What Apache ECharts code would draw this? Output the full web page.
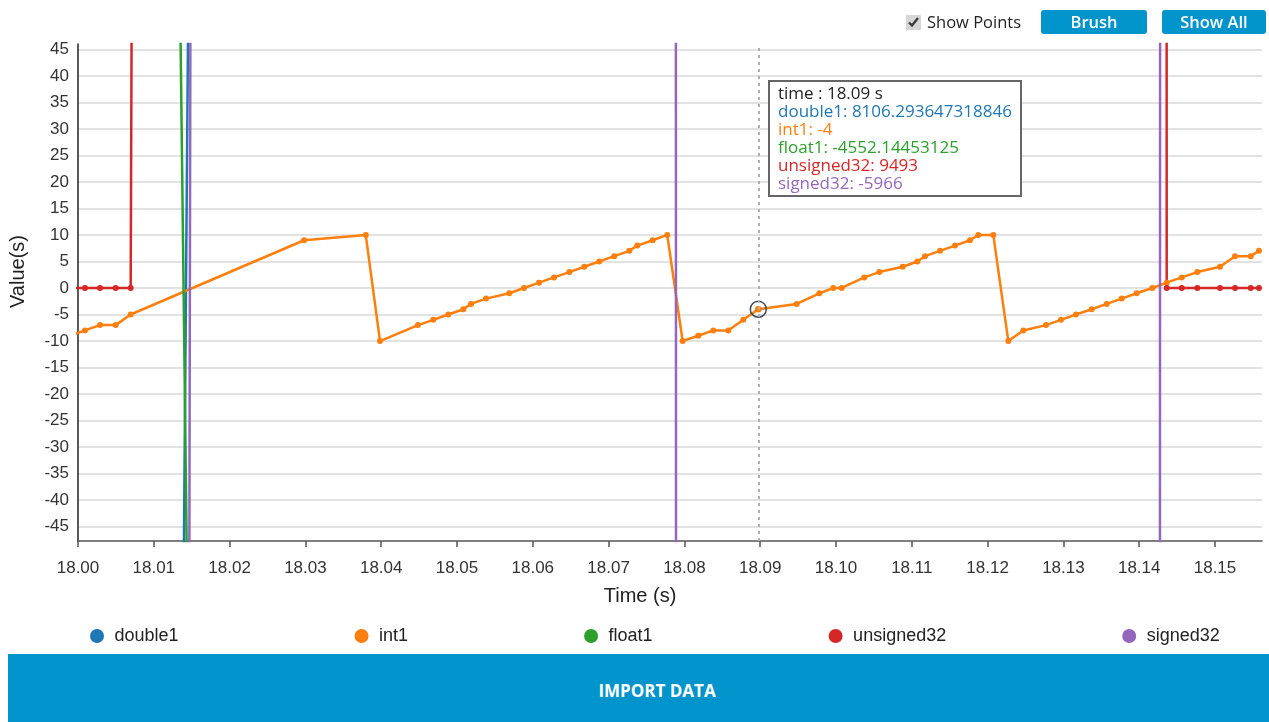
<!DOCTYPE html>
<html>
<head>
<meta charset="utf-8">
<title>Signals</title>
<script src="https://cdn.jsdelivr.net/npm/echarts@6/dist/echarts.min.js"></script>
<style>
    html, body { margin: 0; padding: 0; background: #fff; overflow: hidden; }
    #chart { position: absolute; left: 0; top: 0; width: 1269px; height: 722px; }
    .controls { position: absolute; top: 10px; left: 904px; height: 24px; font-family: 'Open Sans', sans-serif; font-size: 16.5px; color: #222; z-index: 5; }
    .controls label { position: absolute; left: 0; top: 0; white-space: nowrap; line-height: 24px; }
    .controls input { width: 15px; height: 15px; margin: 0 6px 0 2px; vertical-align: -2px; accent-color: #d6d6d6; }
    .btn { position: absolute; top: 0; height: 24px; background: #0094cd; color: #fff; border-radius: 3px; text-align: center; line-height: 23px; font-weight: 600; font-size: 16.5px; }
    #import { position: absolute; left: 8px; top: 654px; width: 1298px; height: 80px; background: #0094cd; color: #fff; font-family: 'Open Sans', sans-serif; font-weight: 700; font-size: 17px; text-align: center; line-height: 74px; z-index: 5; }
</style>
</head>
<body>
<div id="chart"></div>
<div class="controls">
    <label><input type="checkbox" checked>Show Points</label>
    <div class="btn" style="left:137px;width:106px;">Brush</div>
    <div class="btn" style="left:258px;width:104px;">Show All</div>
</div>
<div id="import">IMPORT DATA</div>
<script>
    'use strict';

    // sample times (s)
    var times = [
        17.99894, 18.00092, 18.00290, 18.00497, 18.00695, 18.02982, 18.03796, 18.03984, 18.04485, 18.04687,
        18.04885, 18.05083, 18.05185, 18.05383, 18.05690, 18.05884, 18.06082, 18.06280, 18.06482, 18.06679,
        18.06877, 18.07075, 18.07273, 18.07379, 18.07582, 18.07774, 18.07977, 18.08183, 18.08381, 18.08579,
        18.08777, 18.08975, 18.09481, 18.09780, 18.09964, 18.10075, 18.10373, 18.10571, 18.10880, 18.11073,
        18.11174, 18.11372, 18.11570, 18.11768, 18.11877, 18.12075, 18.12273, 18.12471, 18.12770, 18.12968,
        18.13166, 18.13373, 18.13571, 18.13769, 18.13967, 18.14173, 18.14363, 18.14561, 18.14767, 18.15066,
        18.15264, 18.15471, 18.15580
    ];

    var double1 = [
        -5210, -4630, -3870, -2950, -1294, 2762, 3905, 4160, 4822, 5071,
        5308, 5535, 5642, 5850, 6155, 6330, 6512, 6688, 6861, 7020,
        7170, 7315, 7452, 7521, 7650, 7760, 7862, 7951, 8012, 8060,
        8092, 8106.293647318846, 8110, 8088, 8064, 8047, 7990, 7944, 7856, 7790,
        7760, 7680, 7592, 7498, 7445, 7340, 7228, 7110, 6925, 6796,
        6660, 6512, 6365, 6214, 6058, 5890, 5735, 5565, 5388, 5124,
        4945, 4752, 4650
    ];

    var int1 = [
        -9, -8, -7, -7, -5, 9, 10, -10, -7, -6,
        -5, -4, -3, -2, -1, 0, 1, 2, 3, 4,
        5, 6, 7, 8, 9, 10, -10, -9, -8, -8,
        -6, -4, -3, -1, 0, 0, 2, 3, 4, 5,
        6, 7, 8, 9, 10, 10, -10, -8, -7, -6,
        -5, -4, -3, -2, -1, 0, 1, 2, 3, 4,
        6, 6, 7
    ];

    var float1 = [
        3900, 3310, 2640, 1780, 825, -1879, -2490, -2625, -2980, -3115,
        -3240, -3362, -3420, -3531, -3690, -3780, -3874, -3962, -4048, -4125,
        -4198, -4266, -4328, -4360, -4415, -4461, -4502, -4529, -4545, -4553,
        -4555, -4552.14453125, -4531, -4508, -4489, -4478, -4445, -4418, -4371, -4330,
        -4311, -4270, -4221, -4168, -4140, -4082, -4020, -3954, -3851, -3780,
        -3705, -3623, -3544, -3462, -3378, -3289, -3205, -3112, -3017, -2874,
        -2780, -2679, -2622
    ];

    var unsigned32 = [
        0, 0, 0, 0, 0, 9120, 9268, 9301, 9344, 9357,
        9372, 9385, 9391, 9404, 9420, 9428, 9437, 9445, 9452, 9460,
        9466, 9471, 9476, 9479, 9483, 9486, 9488, 9490, 9491, 9492,
        9492, 9493, 9493, 9492, 9490, 9489, 9485, 9481, 9474, 9469,
        9466, 9458, 9450, 9441, 9436, 9426, 9415, 9403, 9384, 9370,
        9355, 9338, 9321, 9302, 9283, 9262, 0, 0, 0, 0,
        0, 0, 0
    ];

    var signed32 = [
        -9800, -8900, -7950, -6900, -5600, 10800, 10120, 9970, 9580, 9420,
        9270, 9110, 9030, 8880, 8650, 8500, 8350, 8190, 8040, 7880,
        7730, 7570, 7410, 7330, 7170, 7000, -5400, -5520, -5660, -5780,
        -5870, -5966, -6180, -6300, -6370, -6410, -6500, -6560, -6630, -6670,
        -6690, -6720, -6740, -6750, -6755, -6750, -6740, -6720, -6680, -6640,
        -6600, -6550, -6510, -6470, -6430, -6400, 5560, 5420, 5270, 5050,
        4900, 4740, 4660
    ];

    var seriesNames = ['double1', 'int1', 'float1', 'unsigned32', 'signed32'];
    var seriesValues = [double1, int1, float1, unsigned32, signed32];
    var colors = ['#1f77b4', '#ff7f0e', '#2ca02c', '#d62728', '#9467bd'];

    var hoverIndex = 31; // 18.09 s

    var axisFont = 'Liberation Sans, Arial, sans-serif';

    var chart = echarts.init(document.getElementById('chart'), null, {renderer: 'canvas'});

    var series = seriesNames.map(function(name, s) {
        var item = {
            name: name,
            type: 'line',
            data: times.map(function(t, i) { return [t, seriesValues[s][i]]; }),
            symbol: 'circle',
            symbolSize: 6,
            showSymbol: true,
            lineStyle: {width: 2.5},
            clip: true,
            animation: false,
            emphasis: {disabled: true}
        };
        if (name === 'int1') {
            item.markPoint = {
                symbol: 'circle',
                symbolSize: 16,
                silent: true,
                animation: false,
                label: {show: false},
                itemStyle: {color: 'rgba(0,0,0,0)', borderColor: '#3d4f55', borderWidth: 1.5},
                data: [{coord: [times[hoverIndex], int1[hoverIndex]]}]
            };
        }
        return item;
    });

    chart.setOption({
        color: colors,
        animation: false,
        grid: {left: 78, right: 7, top: 44, bottom: 181},
        legend: {
            data: seriesNames,
            icon: 'circle',
            itemWidth: 25,
            itemHeight: 14,
            itemGap: 176,
            left: 85,
            top: 622,
            selectedMode: false,
            textStyle: {fontFamily: axisFont, fontSize: 18, color: '#222'}
        },
        tooltip: {
            trigger: 'axis',
            triggerOn: 'none',
            alwaysShowContent: true,
            transitionDuration: 0,
            position: [768, 80],
            backgroundColor: '#fff',
            borderColor: '#666',
            borderWidth: 2,
            borderRadius: 0,
            padding: [2, 8, 3, 8],
            extraCssText: 'box-shadow:none;border-radius:0;',
            textStyle: {fontFamily: 'Open Sans, sans-serif', fontSize: 17, color: '#222'},
            axisPointer: {
                type: 'line',
                animation: false,
                lineStyle: {color: '#b0b0b0', width: 2, type: [3, 4]}
            },
            formatter: function(params) {
                var t = params[0].value[0];
                var html = '<div style="line-height:18px;color:#222">time : ' + t.toFixed(2) + ' s</div>';
                params.forEach(function(p) {
                    html += '<div style="line-height:18px;color:' + p.color + '">' + p.seriesName + ': ' + p.value[1] + '</div>';
                });
                return html;
            }
        },
        xAxis: {
            type: 'value',
            min: 18,
            max: 18.1562,
            interval: 0.01,
            name: 'Time (s)',
            nameLocation: 'middle',
            nameGap: 45,
            nameTextStyle: {fontFamily: axisFont, fontSize: 20, color: '#222', padding: [0, 60, 0, 0]},
            axisLine: {onZero: false, lineStyle: {color: '#555', width: 1.5}},
            axisTick: {show: true, length: 6, lineStyle: {color: '#555', width: 1.5}},
            axisLabel: {
                fontFamily: axisFont, fontSize: 17, color: '#333', margin: 19,
                showMaxLabel: false,
                formatter: function(v) { return v.toFixed(2); }
            },
            splitLine: {show: false}
        },
        yAxis: {
            type: 'value',
            min: -47.7,
            max: 46,
            splitNumber: 18,
            minInterval: 5,
            maxInterval: 5,
            name: 'Value(s)',
            nameLocation: 'middle',
            nameGap: 50,
            nameTextStyle: {fontFamily: axisFont, fontSize: 20, color: '#222', padding: [0, 0, 0, 42]},
            axisLine: {show: true, lineStyle: {color: '#222', width: 1.5}},
            axisTick: {show: false},
            axisLabel: {
                fontFamily: axisFont, fontSize: 17, color: '#333', margin: 9,
                showMinLabel: false, showMaxLabel: false
            },
            splitLine: {show: true, showMinLine: false, showMaxLine: false, lineStyle: {color: '#e2e2e2', width: 2}}
        },
        series: series
    });

    chart.dispatchAction({type: 'showTip', seriesIndex: 1, dataIndex: hoverIndex});
</script>
</body>
</html>
